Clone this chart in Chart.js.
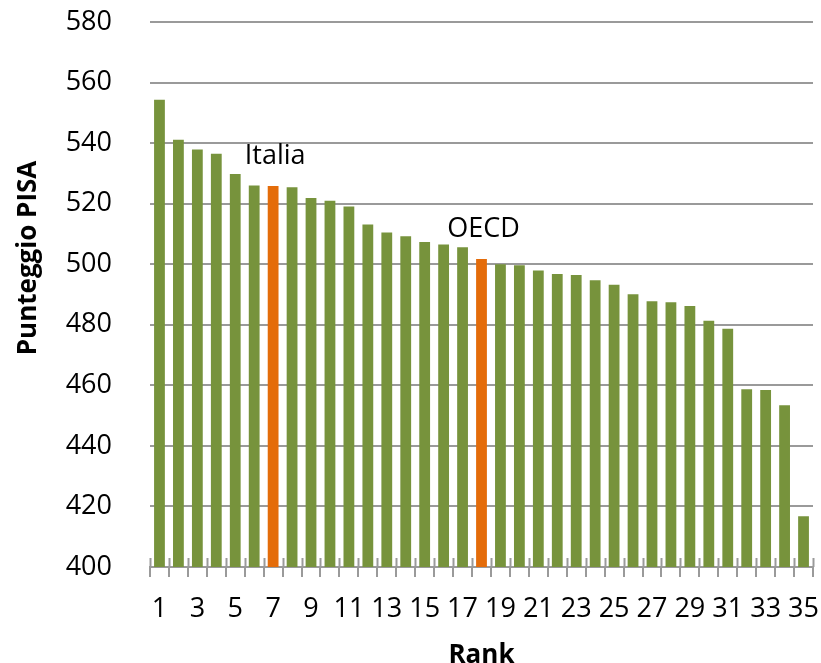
<!DOCTYPE html>
<html>
<head>
<meta charset="utf-8">
<script src="https://cdn.jsdelivr.net/npm/chart.js@4/dist/chart.umd.min.js"></script>
<style>
  html, body { margin: 0; padding: 0; background: #ffffff; }
  #wrap { width: 821px; height: 663px; }
</style>
</head>
<body>
<div id="wrap"><canvas id="c" width="821" height="663"></canvas></div>
<script>
// Rank positions 1..35
const ranks = ["1","2","3","4","5","6","7","8","9","10","11","12","13","14","15","16","17","18","19","20","21","22","23","24","25","26","27","28","29","30","31","32","33","34","35"];

// PISA score for each rank
const scores = [554.3, 541.1, 537.9, 536.5, 529.8, 526.0, 525.8, 525.4, 521.9, 521.0,
                519.1, 513.1, 510.5, 509.2, 507.3, 506.5, 505.6, 501.7, 500.0, 499.7,
                497.9, 496.8, 496.4, 494.7, 493.2, 490.1, 487.8, 487.4, 486.2, 481.3,
                478.7, 458.7, 458.5, 453.4, 416.8];

// Highlighted ranks and their names
const highlightRanks = [7, 18];
const highlightNames = ["Italia", "OECD"];

// Y axis tick values
const yTicks = [400, 420, 440, 460, 480, 500, 520, 540, 560, 580];

const GREEN = "#77933c";
const ORANGE = "#e46c0a";
const GRID = "#9a9a9a";
const FONT = "'Open Sans', 'DejaVu Sans', sans-serif";

// Tick marks that cross the category axis (inner half), plus callout names and y title
const decorations = {
  id: "decorations",
  afterDatasetsDraw(chart) {
    const ctx = chart.ctx;
    const x = chart.scales.x;
    const area = chart.chartArea;
    const step = x.getPixelForValue(1) - x.getPixelForValue(0);
    ctx.save();
    ctx.strokeStyle = GRID;
    ctx.lineWidth = 2;
    for (let i = 0; i <= ranks.length; i++) {
      const px = Math.round(x.getPixelForValue(0) - step / 2 + i * step) + 0.5;
      ctx.beginPath();
      ctx.moveTo(px, area.bottom - 9);
      ctx.lineTo(px, area.bottom);
      ctx.stroke();
    }
    // callout names above highlighted bars
    const meta = chart.getDatasetMeta(0);
    ctx.fillStyle = "#000";
    ctx.font = "27px " + FONT;
    ctx.textAlign = "center";
    ctx.textBaseline = "middle";
    highlightRanks.forEach((r, k) => {
      const bar = meta.data[r - 1];
      ctx.fillText(highlightNames[k], bar.x + 2, bar.y - 30);
    });
    // y axis title
    ctx.font = "bold 26px " + FONT;
    ctx.translate(29, 258);
    ctx.rotate(-Math.PI / 2);
    ctx.fillText("Punteggio PISA", 0, 0);
    ctx.restore();
  }
};

new Chart(document.getElementById("c"), {
  type: "bar",
  data: {
    labels: ranks,
    datasets: [{
      data: scores,
      backgroundColor: ctx => highlightRanks.includes(ctx.dataIndex + 1) ? ORANGE : GREEN,
      barPercentage: 0.57,
      categoryPercentage: 1.0,
      borderWidth: 0
    }]
  },
  options: {
    responsive: false,
    animation: false,
    layout: { padding: { top: 22, right: 8, left: 0, bottom: 0 } },
    plugins: { legend: { display: false }, tooltip: { enabled: false } },
    scales: {
      x: {
        offset: true,
        grid: {
          offset: true,
          drawOnChartArea: false,
          drawTicks: true,
          tickLength: 10,
          color: GRID,
          lineWidth: 2
        },
        border: { display: true, color: GRID, width: 2 },
        ticks: {
          autoSkip: false,
          maxRotation: 0,
          minRotation: 0,
          padding: 16,
          color: "#000",
          font: { family: FONT, size: 27 },
          callback: (v, i) => (i % 2 === 0 ? ranks[i] : "")
        },
        title: {
          display: true,
          text: "Rank",
          color: "#000",
          font: { family: FONT, size: 26, weight: "bold", lineHeight: 0.6 },
          padding: { top: 0, bottom: 0 }
        },
        afterFit: s => { s.height = 96; s.paddingLeft = 0; s.paddingRight = 0; }
      },
      y: {
        min: 400,
        max: 580,
        afterBuildTicks: s => { s.ticks = yTicks.map(v => ({ value: v })); },
        grid: { color: GRID, lineWidth: 2, drawTicks: false },
        border: { display: false },
        ticks: {
          padding: 38,
          color: "#000",
          font: { family: FONT, size: 27 }
        },
        afterFit: s => { s.width = 150; s.paddingTop = 0; s.paddingBottom = 0; }
      }
    }
  },
  plugins: [decorations]
});
</script>
</body>
</html>
